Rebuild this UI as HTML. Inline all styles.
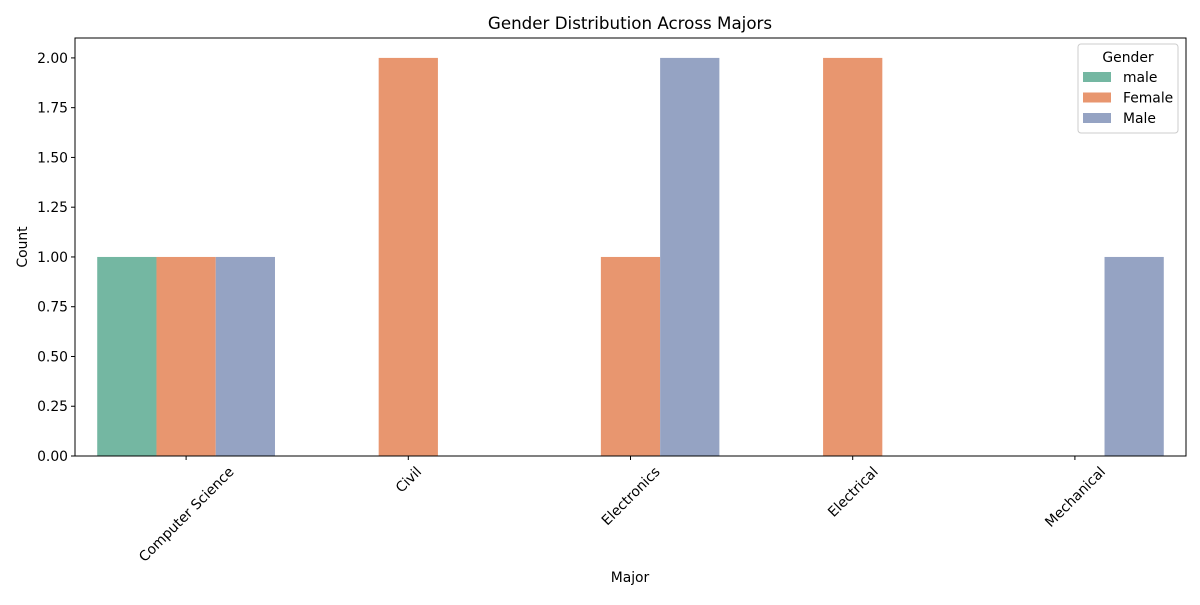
<!DOCTYPE html>
<html><head><meta charset="utf-8"><style>body{margin:0;background:#fff}svg{font-family:"DejaVu Sans","Liberation Sans",sans-serif}</style></head>
<body>
<svg id="c" width="1200" height="600" xmlns="http://www.w3.org/2000/svg">
<rect width="1200" height="600" fill="#fff"/>
<text x="630" y="29" font-size="16.7" text-anchor="middle">Gender Distribution Across Majors</text>
<g id="bars"></g>
<g id="axes"></g>
<rect x="75" y="38" width="1111" height="418" fill="none" stroke="#000" stroke-width="1"/>
<text x="630" y="582" font-size="13.9" text-anchor="middle">Major</text>
<text transform="translate(27,247) rotate(-90)" font-size="13.9" text-anchor="middle">Count</text>
<g>
<rect x="1078" y="44" width="100" height="89" rx="3" fill="#fff" fill-opacity="0.8" stroke="#ccc"/>
<text x="1128" y="62" font-size="13.9" text-anchor="middle">Gender</text>
<g id="leg"></g>
</g>
</svg>
<script>
const categories=["Computer Science","Civil","Electronics","Electrical","Mechanical"];
const hues=["male","Female","Male"];
const colors=["#74b7a2","#e8966f","#95a3c3"];
const maleLower=[1,0,0,0,0];
const female=[1,2,1,2,0];
const maleUpper=[1,0,2,0,1];
const yTicks=[0,0.25,0.5,0.75,1,1.25,1.5,1.75,2];
const series=[maleLower,female,maleUpper];
const NS="http://www.w3.org/2000/svg";
const L=75,R=1186,T=38,B=456,ymax=2.1;
const band=(R-L)/categories.length;
const x=i=>L+band*(i+0.5);
const y=v=>B-(v/ymax)*(B-T);
const bw=band*0.8/3;
function mk(t,a,p){const e=document.createElementNS(NS,t);for(const k in a)e.setAttribute(k,a[k]);p.appendChild(e);return e;}
const bars=document.getElementById('bars'),axes=document.getElementById('axes'),leg=document.getElementById('leg');
series.forEach((s,h)=>s.forEach((v,i)=>{if(!v)return;
 const r=mk('rect',{x:x(i)+(h-1.5)*bw,y:y(v),width:bw,height:y(0)-y(v),fill:colors[h]},bars);
 
 }));
yTicks.forEach(t=>{
 const l=mk('line',{x1:L-4,x2:L,y1:y(t),y2:y(t),stroke:'#000'},axes);
 
 
 const tx=mk('text',{x:L-7,y:y(t)+5,'font-size':13.9,'text-anchor':'end'},axes);tx.textContent=t.toFixed(2);
 
 });
categories.forEach((c,i)=>{
 const l=mk('line',{x1:x(i),x2:x(i),y1:B,y2:B+4,stroke:'#000'},axes);
 
 
 const tx=mk('text',{'font-size':13.9,'text-anchor':'middle'},axes);tx.textContent=c;
 
 
 const w=tx.getComputedTextLength();const cy=B+7+w*0.354+6;
 tx.setAttribute('transform','translate('+x(i)+','+cy+') rotate(-45)');tx.setAttribute('y',5);});
hues.forEach((h,k)=>{const yy=77+k*20.5;
 const r=mk('rect',{x:1083,y:yy-5,width:28,height:10,fill:colors[k]},leg);
 
 
 const t=mk('text',{x:1123,y:yy+5,'font-size':13.9},leg);t.textContent=h;
 
 });
</script>
</body></html>
